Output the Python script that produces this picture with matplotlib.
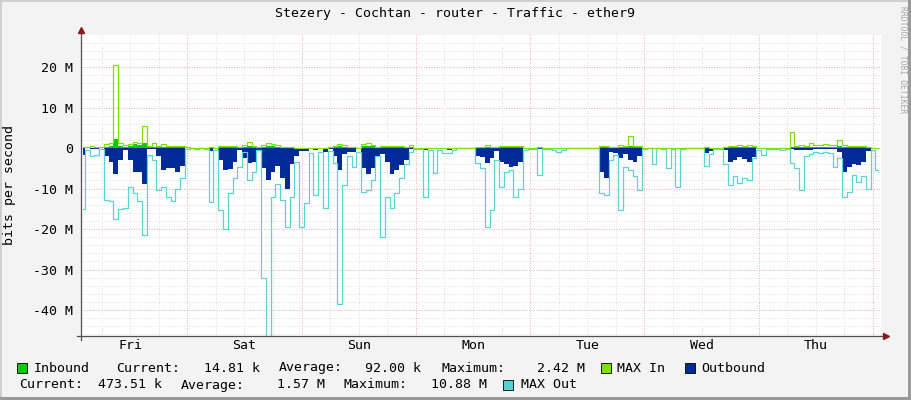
import numpy as np
import matplotlib
matplotlib.use('Agg')
import matplotlib.pyplot as plt
from matplotlib.patches import Rectangle
from matplotlib.ticker import FuncFormatter, FixedLocator

# hourly samples, hours counted from Friday 00:00, values in Mbit/s
start_hour = 2

inbound = [
    0.1, 0.1, 0.1, 0.1, 0.1, 0.3, 0.5, 2.2, 0.4, 0.3, 0.6, 1.0,
    0.8, 1.2, 0.2, 0.2, 0.2, 0.3, 0.3, 0.3, 0.3, 0.3, 0.1, 0.05,
    0.05, 0.05, 0.05, 0.05, 0.05, 0.2, 0.3, 0.3, 0.2, 0.1, 0.3, 0.4,
    0.3, 0.1, 0.3, 0.5, 0.4, 0.3, 0.2, 0.2, 0.1, 0.1, 0.05, 0.05,
    0.05, 0.05, 0.05, 0.05, 0.05, 0.3, 0.4, 0.3, 0.1, 0.1, 0.05, 0.4,
    0.5, 0.4, 0.1, 0.2, 0.3, 0.3, 0.3, 0.2, 0.2, 0.2, 0.05, 0.05,
    0.05, 0.05, 0.05, 0.05, 0.05, 0.05, 0.05, 0.05, 0.05, 0.05, 0.05, 0.1,
    0.2, 0.3, 0.2, 0.1, 0.3, 0.3, 0.3, 0.3, 0.3, 0.05, 0.05, 0.05,
    0.05, 0.05, 0.05, 0.05, 0.05, 0.05, 0.05, 0.05, 0.05, 0.05, 0.05, 0.05,
    0.05, 0.2, 0.3, 0.1, 0.1, 0.3, 0.3, 0.5, 0.3, 0.2, 0.05, 0.05,
    0.05, 0.05, 0.05, 0.05, 0.05, 0.05, 0.05, 0.05, 0.05, 0.05, 0.05, 0.05,
    0.05, 0.05, 0.05, 0.05, 0.3, 0.3, 0.3, 0.3, 0.3, 0.2, 0.05, 0.05,
    0.05, 0.05, 0.05, 0.05, 0.05, 0.3, 0.2, 0.2, 0.2, 0.2, 0.2, 0.2,
    0.2, 0.2, 0.2, 0.4, 0.3, 0.3, 0.3, 0.3, 0.3, 0.1, 0.05, 0.05,
]

max_in = [
    0.3, 0.2, 0.4, 0.3, 0.2, 1.0, 1.3, 20.5, 1.2, 0.8, 1.0, 1.5,
    1.3, 5.4, 0.5, 1.3, 0.5, 1.0, 0.5, 0.6, 0.6, 0.6, 0.2, 0.1,
    0.1, 0.1, 0.1, 0.2, 0.1, 0.5, 0.6, 0.5, 0.4, 0.3, 0.8, 1.5,
    0.6, 0.3, 0.8, 1.2, 1.0, 0.8, 0.3, 0.3, 0.2, 0.1, 0.1, 0.1,
    0.1, 0.1, 0.1, 0.1, 0.2, 0.6, 0.9, 0.7, 0.2, 0.2, 0.1, 1.0,
    1.2, 0.8, 0.3, 0.5, 0.6, 0.5, 0.5, 0.4, 0.3, 0.7, 0.1, 0.1,
    0.1, 0.1, 0.1, 0.1, 0.1, 0.1, 0.1, 0.1, 0.1, 0.1, 0.1, 0.3,
    0.3, 0.8, 0.3, 0.2, 0.5, 0.5, 0.5, 0.6, 0.5, 0.1, 0.1, 0.1,
    0.2, 0.1, 0.1, 0.1, 0.1, 0.1, 0.1, 0.1, 0.1, 0.1, 0.1, 0.1,
    0.1, 0.5, 0.5, 0.3, 0.3, 0.8, 0.6, 3.0, 0.6, 0.5, 0.1, 0.1,
    0.1, 0.1, 0.1, 0.1, 0.1, 0.1, 0.1, 0.1, 0.1, 0.1, 0.1, 0.2,
    0.1, 0.1, 0.1, 0.2, 0.6, 0.5, 0.8, 0.5, 0.8, 0.4, 0.1, 0.1,
    0.1, 0.1, 0.1, 0.1, 0.1, 4.0, 0.6, 0.7, 0.6, 1.3, 0.7, 0.8,
    1.1, 0.7, 0.8, 2.1, 0.7, 0.5, 0.6, 0.5, 0.6, 0.3, 0.1, 0.1,
]

outbound = [
    -1.7, 0, -0.2, -0.2, 0, -2, -3.5, -6.5, -3, -0.5, -3, -5.8,
    -6, -9, -0.3, -0.3, -2, -5.5, -5, -5, -6, -4.5, 0, 0,
    0, 0, 0, -0.8, -0.2, -3, -5.4, -5.2, -3.5, -0.5, -2.5, -3.8,
    -3.5, -0.5, -5, -8, -6, -4.5, -7.5, -10, -4, -2, -0.7, -0.7,
    -0.2, -0.5, -0.2, -1, -0.2, -2, -5.5, -1.5, -1, -1, -0.2, -5,
    -6.5, -5, -2, -1.5, -3.5, -6.5, -5.5, -4.2, -3, -0.3, 0, 0,
    -0.5, 0, -0.2, 0, -0.2, -0.5, 0, 0, 0, 0, 0, -2,
    -2.3, -3.8, -2.5, -0.8, -3.5, -4, -4.6, -4.4, -3.5, -0.2, 0, 0,
    -0.3, 0, 0, 0, -0.2, 0, 0, 0, 0, 0, 0, 0,
    0, -6, -7.5, -1, -1.2, -2.5, -1.5, -3, -3.4, -2, -0.2, 0,
    -0.2, 0, 0, -0.2, 0, -0.3, 0, 0, 0, 0, 0, -1.3,
    -0.8, 0, 0, -0.6, -3.5, -3, -2.3, -2.8, -3.4, -2.2, -0.3, -0.2,
    0, 0, 0, 0, 0, -0.3, -0.5, -0.6, -0.4, -0.5, -0.3, -0.3,
    -0.3, -0.3, -0.3, -1, -6, -4.6, -4, -4.2, -3.4, -0.7, 0, -0.3,
]

max_out = [
    -15, -0.5, -2, -1.7, -0.3, -12.8, -13, -17.4, -15, -14.9, -9.5, -11,
    -13, -21.5, -1.7, -3, -10.4, -9.5, -12, -13, -10, -7.5, -0.3, -0.1,
    -0.2, -0.1, -0.3, -13.2, -0.5, -15.3, -20, -11, -7.5, -4.6, -1, -7.9,
    -6, -0.5, -32, -46.5, -12, -9, -12.8, -19.4, -12, -3.5, -19.6, -13.5,
    -1.3, -11.6, -1, -14.9, -0.8, -3.8, -38.4, -9.1, -2, -4.6, -1, -10.8,
    -10.4, -8, -2, -22, -12, -14.9, -11.2, -7.5, -4, -1, -0.3, -0.2,
    -12.2, -0.5, -6.2, -0.5, -1.3, -1.3, -0.4, -0.1, 0, 0, 0, -3.8,
    -5, -19.4, -15.3, -3, -9.5, -6, -5.4, -12, -10, -0.5, -0.3, -0.3,
    -6.7, -0.3, -0.2, -0.4, -1, -0.5, 0, 0, 0, 0, 0, 0,
    0, -11.2, -11.6, -3, -1.7, -15.3, -4.6, -5.4, -7, -10.4, -0.3, -0.1,
    -4, -0.1, -0.3, -5, -0.3, -9.5, -0.2, 0, 0, 0, 0, -4.4,
    -1.5, -0.2, -0.3, -4, -9.1, -7, -8.7, -7.5, -8, -2.5, -0.5, -1.7,
    -0.3, -0.2, -0.2, -0.5, -0.3, -3.8, -5, -10.4, -2, -1.5, -1, -1.3,
    -1, -1.3, -4.6, -2.5, -12, -10.8, -6.7, -8.3, -7, -10, -0.5, -5.4,
]

day_names = ['Fri', 'Sat', 'Sun', 'Mon', 'Tue', 'Wed', 'Thu']
title = 'Stezery - Cochtan - router - Traffic - ether9'

W, H = 911, 400
MONO = 'DejaVu Sans Mono'
FS = 9.5


def fx(px):
    return px / W


def fy(py):
    return 1 - py / H


hours = start_hour + np.arange(len(max_out))
M = 1e6
inb = np.array(inbound) * M
mxi = np.array(max_in) * M
outb = np.array(outbound) * M
mxo = np.array(max_out) * M

fig = plt.figure(figsize=(W / 100, H / 100), dpi=100, facecolor='#f3f3f3')
ax = fig.add_axes([fx(81), fy(336), 800 / W, 301 / H])
ax.set_facecolor('white')
for s in ax.spines.values():
    s.set_visible(False)

ax.set_xlim(1.68, 169.68)
ax.set_ylim(-46.4 * M, 27.9 * M)

# grid: minor 2M / 6h grey, major 10M / 24h red
for v in range(-46, 28, 2):
    c = '#f0b4b4' if v % 10 == 0 else '#e2e2e2'
    ax.axhline(v * M, color=c, lw=0.72, ls=(0, (1, 1.5)), zorder=1)
for h in range(6, 170, 6):
    c = '#f0b4b4' if h % 24 == 0 else '#e2e2e2'
    ax.axvline(h, color=c, lw=0.72, ls=(0, (1, 1.5)), zorder=1)

# series
ax.fill_between(hours, 0, inb, step='mid', color='#00cc00', lw=0, zorder=3)
ax.fill_between(hours, 0, outb, step='mid', color='#002a97', lw=0, zorder=3)
ax.step(hours, mxo, where='mid', color='#5cd4d4', lw=0.9, zorder=4)
ax.step(hours, mxi, where='mid', color='#7ee000', lw=0.9, zorder=4)

# axes lines with arrows
ax.plot([0, 0], [-0.012, 1.012], transform=ax.transAxes, color='#505050',
        lw=0.9, clip_on=False, zorder=6)
ax.plot([-0.005, 1.004], [0, 0], transform=ax.transAxes, color='#505050',
        lw=0.9, clip_on=False, zorder=6)
ax.plot([0], [1.017], marker='^', ms=4.5, color='#8b1a1a', transform=ax.transAxes,
        clip_on=False, zorder=7)
ax.plot([1.006], [0], marker='>', ms=4.5, color='#8b1a1a', transform=ax.transAxes,
        clip_on=False, zorder=7)

# ticks
ax.yaxis.set_major_locator(FixedLocator([v * M for v in range(-40, 30, 10)]))
ax.yaxis.set_major_formatter(FuncFormatter(
    lambda v, p: '0' if abs(v) < 1 else '%d M' % round(v / M)))
ax.set_xticks([12 + 24 * i for i in range(len(day_names))])
ax.set_xticklabels(day_names)
ax.tick_params(axis='y', length=0, pad=5.5)
ax.tick_params(axis='x', length=0, pad=2.5)
for lab in ax.get_xticklabels() + ax.get_yticklabels():
    lab.set_fontfamily(MONO)
    lab.set_fontsize(FS)

# texts
fig.text(fx(455), fy(14), title, ha='center', va='center', family=MONO, fontsize=FS)
fig.text(fx(10), fy(185), 'bits per second', rotation=90, ha='center', va='center',
         family=MONO, fontsize=FS)
fig.text(fx(903), fy(6), 'RRDTOOL / TOBI OETIKER', rotation=270, ha='center', va='top',
         family=MONO, fontsize=5.8, color='#a8a8a8')

# legend
def square(x, y, color):
    fig.patches.append(Rectangle((fx(x), fy(y + 10)), 10 / W, 10 / H, transform=fig.transFigure,
                                 facecolor=color, edgecolor='black', lw=0.6))


def ltext(x, y, s, ha='left'):
    fig.text(fx(x), fy(y), s, ha=ha, va='center', family=MONO, fontsize=FS)


y1, y2 = 368, 385
square(17, y1 - 5, '#00cc00')
ltext(34, y1, 'Inbound')
ltext(116, y1, 'Current:')
ltext(260, y1, '14.81 k', 'right')
ltext(279, y1, 'Average:')
ltext(421, y1, '92.00 k', 'right')
ltext(441, y1, 'Maximum:')
ltext(585, y1, '2.42 M', 'right')
square(601, y1 - 5, '#7ee000')
ltext(617, y1, 'MAX In')
square(685, y1 - 5, '#002a97')
ltext(701, y1, 'Outbound')
ltext(19, y2, 'Current:')
ltext(162, y2, '473.51 k', 'right')
ltext(181, y2, 'Average:')
ltext(325, y2, '1.57 M', 'right')
ltext(343, y2, 'Maximum:')
ltext(487, y2, '10.88 M', 'right')
square(503, y2 - 5, '#55d3d3')
ltext(521, y2, 'MAX Out')

# canvas frame
fig.patches.append(Rectangle((0, 0), fx(2), 1, transform=fig.transFigure, facecolor='#d0d0d0', lw=0))
fig.patches.append(Rectangle((0, fy(2)), 1, 2 / H, transform=fig.transFigure, facecolor='#d0d0d0', lw=0))
fig.patches.append(Rectangle((fx(908), 0), 3 / W, 1, transform=fig.transFigure, facecolor='#9a9a9a', lw=0))
fig.patches.append(Rectangle((0, 0), 1, 3 / H, transform=fig.transFigure, facecolor='#9a9a9a', lw=0))

fig.savefig('out.png', dpi=100, facecolor=fig.get_facecolor())
